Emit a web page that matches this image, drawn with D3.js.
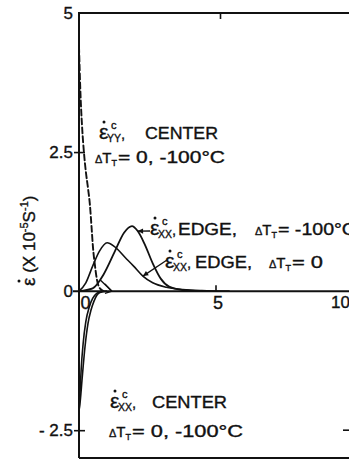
<!DOCTYPE html>
<html>
<head>
<meta charset="utf-8">
<script src="https://cdn.jsdelivr.net/npm/d3@7/dist/d3.min.js"></script>
<style>
  html, body { margin: 0; padding: 0; background: #fff; }
  svg { display: block; }
  text { font-family: "Liberation Sans", Arial, sans-serif; fill: #111; stroke: #111; stroke-width: 0.35; }
</style>
</head>
<body>
<svg id="chart" width="349" height="462"></svg>
<script>
// Strain-rate histories (units of 1e-5 per second) against time.
const xTickValues = [0, 5, 10];
const xTickLabels = ["0", "5", "10"];
const yTickValues = [-2.5, 0, 2.5, 5];
const yTickLabels = ["- 2.5", "0", "2.5", "5"];

// YY rate at the centre (dashed), same for dT = 0 and -100 C
const yyCenter = [[0, 4.4], [0.05, 3.6], [0.12, 2.9], [0.18, 2.5], [0.25, 2.15],
  [0.33, 1.85], [0.4, 1.55], [0.46, 1.15], [0.51, 0.8], [0.58, 0.48], [0.66, 0.2], [0.75, 0.06], [0.9, 0]];
// XX rate at the centre, dT = 0 and dT = -100 C
const xxCenterA = [[0, -2.15], [0.05, -1.95], [0.11, -1.6], [0.22, -1.0], [0.33, -0.58],
  [0.44, -0.34], [0.55, -0.18], [0.66, -0.07], [0.8, -0.02], [1.0, 0]];
const xxCenterB = [[0, -2.2], [0.04, -1.8], [0.08, -1.4], [0.15, -0.95], [0.25, -0.55],
  [0.38, -0.28], [0.5, -0.13], [0.65, -0.04], [0.85, 0]];
// XX rate at the edge, dT = -100 C
const xxEdgeCold = [[0, 0], [0.5, 0.05], [0.9, 0.3], [1.3, 0.7], [1.65, 1.05], [1.94, 1.17],
  [2.15, 1.08], [2.4, 0.85], [2.7, 0.5], [3.0, 0.22], [3.3, 0.08], [3.8, 0.02], [4.5, 0]];
// XX rate at the edge, dT = 0
const xxEdgeWarm = [[0, 0], [0.25, 0.15], [0.5, 0.45], [0.75, 0.72], [1.03, 0.87], [1.3, 0.8],
  [1.7, 0.6], [2.0, 0.45], [2.34, 0.27], [2.7, 0.15], [3.2, 0.07], [3.8, 0.03], [4.5, 0.01], [5.5, 0]];

const svg = d3.select("#chart");
const x = d3.scaleLinear().domain([0, 10]).range([79, 352]);
const y = d3.scaleLinear().domain([-3, 5]).range([458, 13]);

// frame
const frame = svg.append("g").attr("stroke", "#111").attr("stroke-width", 2).attr("fill", "none");
frame.append("line").attr("x1", x(0)).attr("x2", x(0)).attr("y1", y(5)).attr("y2", y(-3));
frame.append("line").attr("x1", x(0) - 1).attr("x2", 349).attr("y1", y(5)).attr("y2", y(5));
frame.append("line").attr("x1", x(0)).attr("x2", 349).attr("y1", y(-3)).attr("y2", y(-3));
frame.append("line").attr("x1", x(0) - 6).attr("x2", 349).attr("y1", y(0)).attr("y2", y(0));

// y axis
const yAxis = svg.append("g").attr("transform", `translate(${x(0)},0)`)
  .call(d3.axisLeft(y).tickValues(yTickValues)
    .tickFormat((d, i) => yTickLabels[i]).tickSizeInner(5).tickSizeOuter(0).tickPadding(1));
yAxis.select(".domain").remove();
yAxis.selectAll(".tick line").attr("stroke", "#111").attr("stroke-width", 1.6)
  .attr("x1", 6).attr("x2", -5)
  .attr("display", d => (d === 0 || d === 5) ? "none" : null);
yAxis.selectAll(".tick text").attr("font-size", 17).attr("fill", "#111")
  .attr("font-family", "Liberation Sans, Arial, sans-serif");
// right-hand tick at -2.5
svg.append("line").attr("x1", 343).attr("x2", 350).attr("y1", y(-2.5)).attr("y2", y(-2.5))
  .attr("stroke", "#111").attr("stroke-width", 1.6);

// x axis along the zero line
const xAxis = svg.append("g").attr("transform", `translate(0,${y(0)})`)
  .call(d3.axisBottom(x).tickValues(xTickValues)
    .tickFormat((d, i) => xTickLabels[i]).tickSizeInner(0).tickSizeOuter(0).tickPadding(5));
xAxis.select(".domain").remove();
xAxis.selectAll(".tick text").attr("font-size", d => d === 10 ? 17 : 18).attr("fill", "#111")
  .attr("font-family", "Liberation Sans, Arial, sans-serif")
  .attr("dx", d => d === 0 ? 6 : (d === 10 ? -12 : 2));
xAxis.selectAll(".tick").append("line").attr("stroke", "#111").attr("stroke-width", 1.6)
  .attr("y1", 0).attr("y2", -6).attr("display", d => d === 5 ? null : "none");
// tick on the top border at t = 5
svg.append("line").attr("x1", x(5) + 5).attr("x2", x(5) + 5).attr("y1", y(5)).attr("y2", y(5) + 6)
  .attr("stroke", "#111").attr("stroke-width", 1.6);

// curves
const line = d3.line().x(d => x(d[0])).y(d => y(d[1])).curve(d3.curveMonotoneX);
const curves = svg.append("g").attr("fill", "none").attr("stroke", "#111")
  .attr("stroke-linecap", "round").attr("stroke-linejoin", "round");
curves.append("path").attr("d", line(yyCenter)).attr("stroke-width", 1.9).attr("stroke-dasharray", "6 3");
curves.append("path").attr("d", line(xxCenterA)).attr("stroke-width", 1.6);
curves.append("path").attr("d", line(xxCenterB)).attr("stroke-width", 1.6);
curves.append("path").attr("d", line(xxEdgeCold)).attr("stroke-width", 1.8);
curves.append("path").attr("d", line(xxEdgeWarm)).attr("stroke-width", 1.6);

// small direction arrow near the origin
const arr = svg.append("g").attr("fill", "none").attr("stroke", "#111").attr("stroke-width", 1.4);
arr.append("path").attr("d", `M${x(0.78)},${y(0.2)} Q${x(0.95)},${y(0.12)} ${x(1.2)},${y(0.0)}`);
arr.append("path").attr("d", `M${x(0.95)},${y(0.13)} L${x(1.2)},${y(0.0)} L${x(0.95)},${y(-0.04)}`);

// leader lines from the edge labels
function leader(x1, y1, pt) {
  const px = x(pt[0]), py = y(pt[1]);
  svg.append("line").attr("x1", x1).attr("y1", y1).attr("x2", px).attr("y2", py)
    .attr("stroke", "#111").attr("stroke-width", 1.3);
  const ang = Math.atan2(py - y1, px - x1);
  const L = 6, w = 0.45;
  svg.append("path").attr("fill", "#111")
    .attr("d", `M${px},${py} L${px - L * Math.cos(ang - w)},${py - L * Math.sin(ang - w)} L${px - L * Math.cos(ang + w)},${py - L * Math.sin(ang + w)}Z`);
}
leader(150, 231, xxEdgeCold[6]);
leader(167, 260, xxEdgeWarm[8]);

// text helpers
function txt(x0, y0, s, size, len) {
  const t = svg.append("text").attr("x", x0).attr("y", y0).attr("font-size", size).text(s);
  if (len) t.attr("textLength", len).attr("lengthAdjust", "spacingAndGlyphs");
  return t;
}
// dotted epsilon with superscript c, subscript component and trailing comma
function epsRate(x0, y0, sub) {
  const t = svg.append("text").attr("x", x0).attr("y", y0);
  t.append("tspan").attr("font-size", 21).text("ε");
  t.append("tspan").attr("x", x0 + 12).attr("dy", -10).attr("font-size", 11).text("c");
  t.append("tspan").attr("x", x0 + 8).attr("dy", 13).attr("font-size", 11)
    .attr("textLength", 14).attr("lengthAdjust", "spacingAndGlyphs").text(sub);
  t.append("tspan").attr("dy", -3).attr("font-size", 15).text(",");
  svg.append("circle").attr("cx", x0 + 5).attr("cy", y0 - 17).attr("r", 1.5).attr("fill", "#111");
}
// temperature-difference symbol followed by its value text
function deltaT(x0, y0, rest, restLen) {
  const t = svg.append("text").attr("x", x0).attr("y", y0);
  t.append("tspan").attr("font-size", 11).text("Δ");
  t.append("tspan").attr("font-size", 15).text("T");
  t.append("tspan").attr("dy", 3).attr("font-size", 9).text("T");
  txt(x0 + 23, y0, rest, 16, restLen);
}

// YY centre label
epsRate(99, 139, "YY");
txt(145, 139, "CENTER", 16, 73);
deltaT(95, 163, "= 0,  -100°C", 107);

// XX edge, dT = -100
epsRate(150, 235, "XX");
txt(178, 235, "EDGE,", 16, 59);
deltaT(255, 235, "= -100°C", 78);

// XX edge, dT = 0
epsRate(165, 268, "XX");
txt(195, 268, "EDGE,", 16, 57);
deltaT(269, 268, "=  0", 31);

// XX centre label
epsRate(110, 408, "XX");
txt(152, 408, "CENTER", 16, 75);
deltaT(109, 437, "= 0,   -100°C", 111);

// y axis title
const yt = svg.append("text").attr("transform", "translate(35,286) rotate(-90)")
  .attr("font-size", 17);
yt.append("tspan").attr("font-size", 19).text("ε");
yt.append("tspan").text(" (X 10");
yt.append("tspan").attr("dy", -7).attr("font-size", 11).text("-5");
yt.append("tspan").attr("dy", 7).text("S");
yt.append("tspan").attr("dy", -7).attr("font-size", 11).text("-1");
yt.append("tspan").attr("dy", 7).text(")");
svg.append("circle").attr("cx", 19).attr("cy", 281).attr("r", 1.5).attr("fill", "#111");
</script>
</body>
</html>
